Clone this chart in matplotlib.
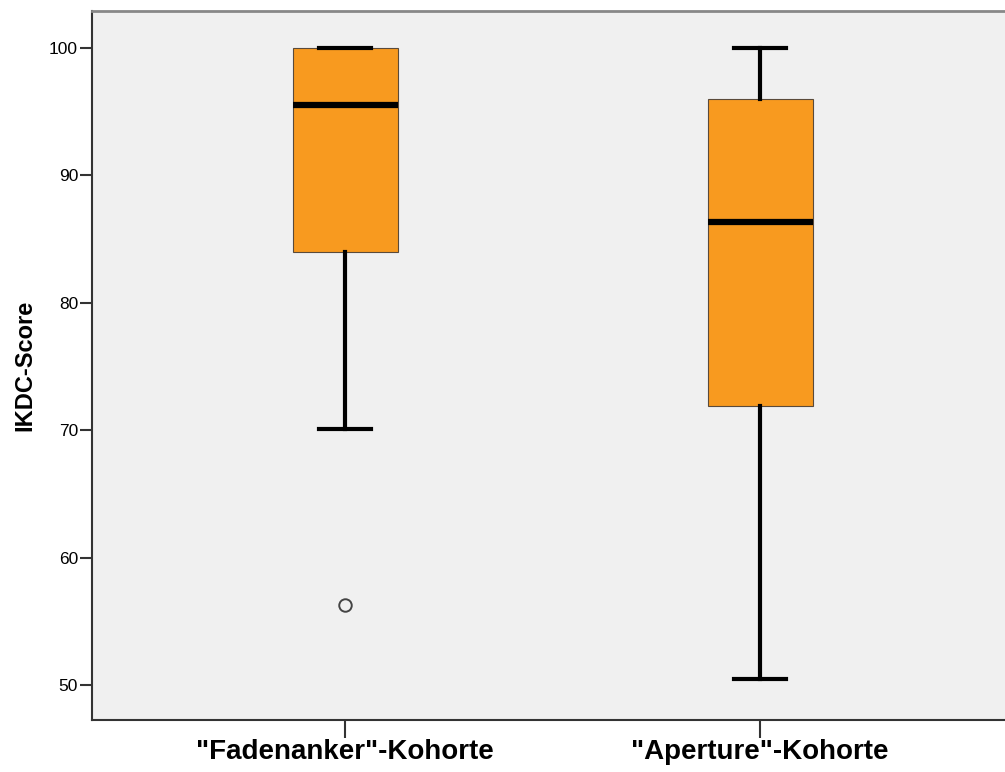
import matplotlib.pyplot as plt

plt.rcParams['font.family'] = ['Liberation Sans', 'DejaVu Sans']

groups = ['"Fadenanker"-Kohorte', '"Aperture"-Kohorte']
whislo = [70.1, 50.5]
q1 = [84.0, 71.9]
med = [95.5, 86.3]
q3 = [100.0, 96.0]
whishi = [100.0, 100.0]
fliers = [[56.3], []]

stats = []
for i in range(len(groups)):
    stats.append({'label': groups[i], 'whislo': whislo[i], 'q1': q1[i], 'med': med[i],
                  'q3': q3[i], 'whishi': whishi[i], 'fliers': fliers[i]})

fig = plt.figure(figsize=(10.05, 7.72), dpi=100)
ax = fig.add_axes([0.0915, 0.0674, 0.9085, 0.9184])
ax.set_facecolor('#f0f0f0')

ax.bxp(stats, positions=[1, 2], widths=0.253, capwidths=0.125, patch_artist=True,
       boxprops=dict(facecolor='#f89a1f', edgecolor='#5a4a3a', linewidth=0.8),
       medianprops=dict(color='black', linewidth=4.5, solid_capstyle='butt'),
       whiskerprops=dict(color='black', linewidth=3),
       capprops=dict(color='black', linewidth=3),
       flierprops=dict(marker='o', markersize=9, markerfacecolor='none',
                       markeredgecolor='#444444', markeredgewidth=1.4))

ax.set_xlim(0.39, 2.59)
ax.set_ylim(47.26, 102.9)
ax.set_yticks([50, 60, 70, 80, 90, 100])
ax.tick_params(axis='y', labelsize=12.5, length=9, width=1.5, color='#333333', pad=1)
ax.tick_params(axis='x', labelsize=20, length=13, width=1.5, color='#333333', pad=1)
for lab in ax.get_xticklabels():
    lab.set_fontweight('bold')
ax.set_ylabel('IKDC-Score', fontsize=17, fontweight='bold', labelpad=9)

ax.spines['right'].set_visible(False)
ax.spines['top'].set_color('#888888')
ax.spines['top'].set_linewidth(2)
ax.spines['left'].set_color('#333333')
ax.spines['left'].set_linewidth(1.5)
ax.spines['bottom'].set_color('#333333')
ax.spines['bottom'].set_linewidth(1.5)

fig.savefig('out.png', dpi=100)
